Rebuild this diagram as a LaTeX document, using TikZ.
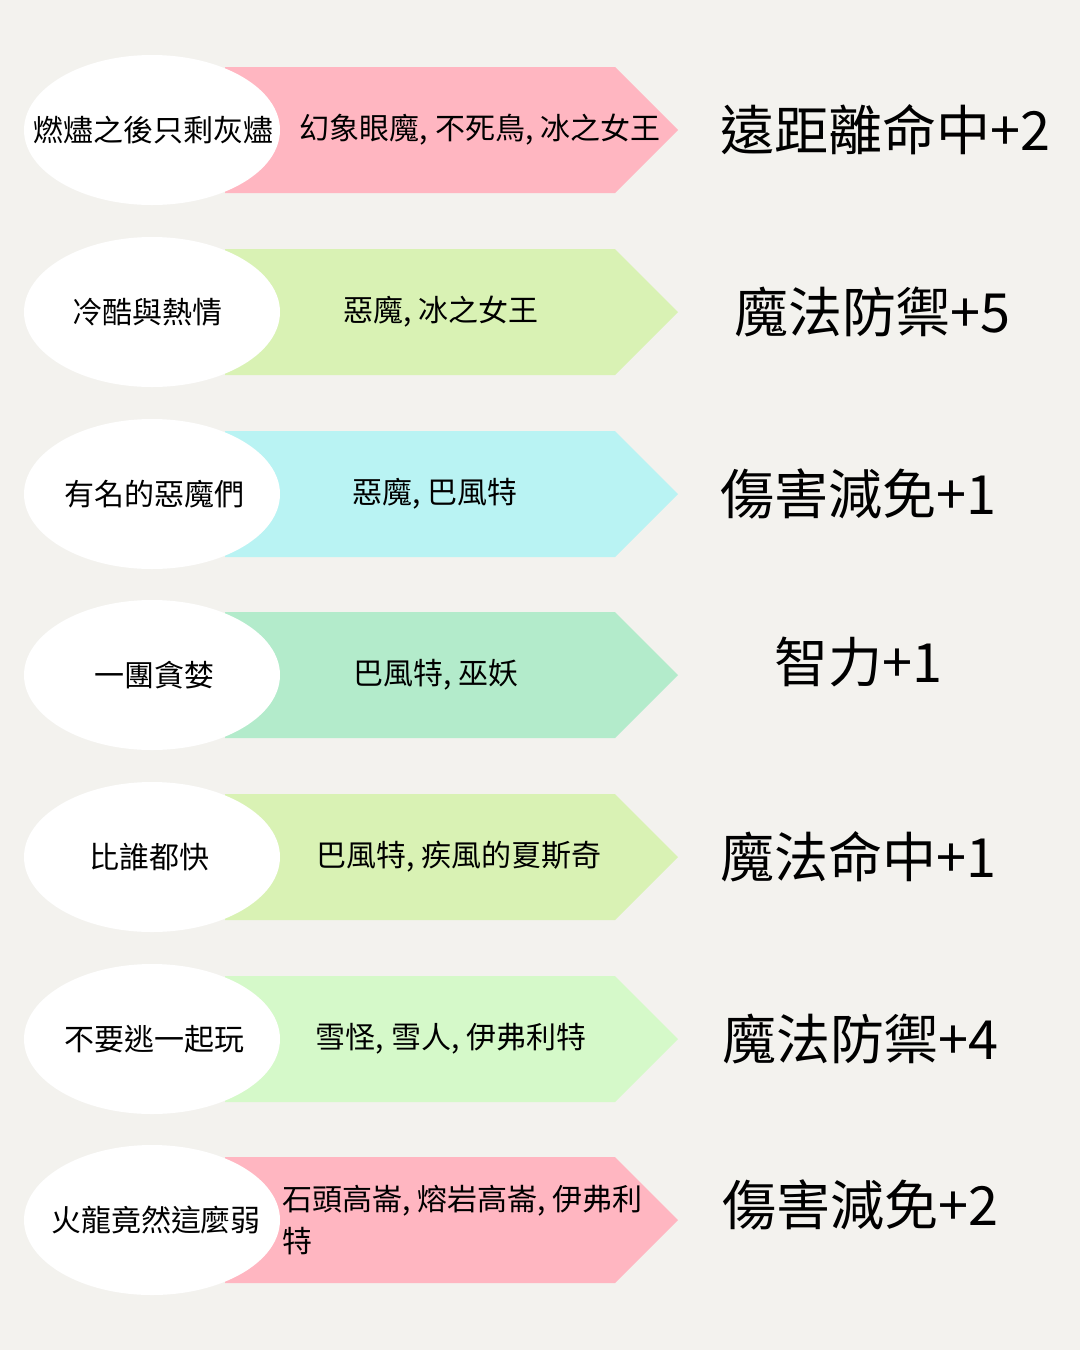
\documentclass[tikz,border=0pt]{standalone}
\usepackage{fontspec}
\setmainfont{Noto Sans CJK TC}
\begin{document}
\begin{tikzpicture}[x=1pt,y=-1pt,
  ell/.style={ellipse,fill=white,minimum width=256pt,minimum height=150pt,inner sep=0pt},
  small/.style={font=\fontsize{30}{42}\selectfont},
  big/.style={font=\fontsize{54}{60}\selectfont}]
\usetikzlibrary{shapes.geometric}
\fill[fill={rgb,255:red,243;green,242;blue,238}] (0,0) rectangle (1080,1350);
\useasboundingbox (0,0) rectangle (1080,1350);
\definecolor{cpink}{HTML}{FFB6C1}
\definecolor{cgreen}{HTML}{D9F2B4}
\definecolor{ccyan}{HTML}{B9F3F3}
\definecolor{cmint}{HTML}{B3EBCB}
\definecolor{clg}{HTML}{D5F9C9}
\foreach \y/\c/\n in {130/cpink/1,312/cgreen/2,494/ccyan/3,675/cmint/4,857/cgreen/5,1039/clg/6,1220/cpink/7}{
  \fill[\c] (225,\y-63) -- (615,\y-63) -- (678,\y) -- (615,\y+63) -- (225,\y+63) -- cycle;
  \node[ell] (e\n) at (152,\y) {};
}
\node[small] (t1) at (154,130) {燃燼之後只剩灰燼};
\node[small] (t2) at (147,312) {冷酷與熱情};
\node[small] (t3) at (154,494) {有名的惡魔們};
\node[small] (t4) at (154,675) {一團貪婪};
\node[small] (t5) at (149,857) {比誰都快};
\node[small] (t6) at (154,1039) {不要逃一起玩};
\node[small] (t7) at (156,1220) {火龍竟然這麼弱};
\node[small] (a1) at (480,130) {幻象眼魔, 不死鳥, 冰之女王};
\node[small] (a2) at (441,312) {惡魔, 冰之女王};
\node[small] (a3) at (435,494) {惡魔, 巴風特};
\node[small] (a4) at (436,675) {巴風特, 巫妖};
\node[small] (a5) at (459,857) {巴風特, 疾風的夏斯奇};
\node[small] (a6) at (451,1039) {雪怪, 雪人, 伊弗利特};
\node[small,anchor=west,align=left,inner sep=0pt] (a7) at (282,1220) {石頭高崙, 熔岩高崙, 伊弗利\\特};
\node[big] (r1) at (885,130) {遠距離命中+2};
\node[big] (r2) at (872,312) {魔法防禦+5};
\node[big] (r3) at (858,494) {傷害減免+1};
\node[big] (r4) at (858,662) {智力+1};
\node[big] (r5) at (858,857) {魔法命中+1};
\node[big] (r6) at (860,1039) {魔法防禦+4};
\node[big] (r7) at (860,1205) {傷害減免+2};
\end{tikzpicture}
\end{document}
